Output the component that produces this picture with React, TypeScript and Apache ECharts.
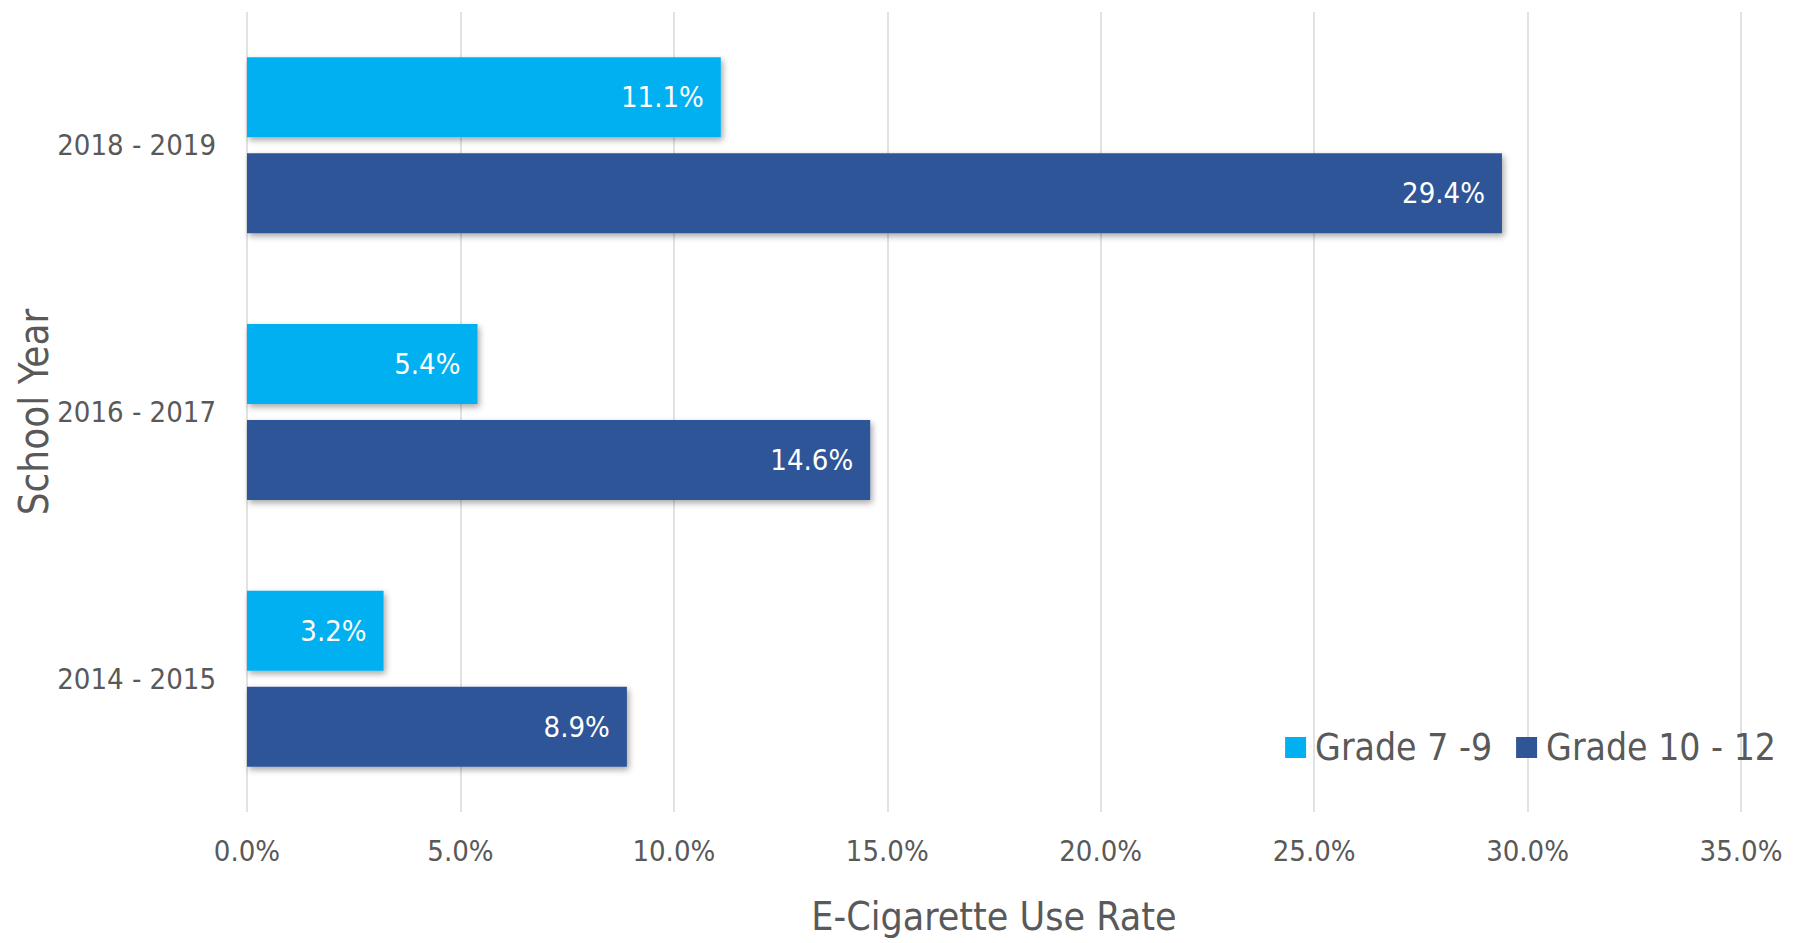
import React, { useEffect, useRef } from "react";
import * as echarts from "echarts";

const categories = ["2014 - 2015", "2016 - 2017", "2018 - 2019"];
const grade7to9 = [3.2, 5.4, 11.1];
const grade10to12 = [8.9, 14.6, 29.4];
const seriesNames = ["Grade 7 -9", "Grade 10 - 12"];
const xTicks = { min: 0, max: 35, interval: 5 };

const FONT = "'Liberation Sans Narrow', 'DejaVu Sans Condensed', 'Arial Narrow', sans-serif";
const GRAY = "#595959";

export default function App() {
  const ref = useRef<HTMLDivElement>(null);
  useEffect(() => {
    if (!ref.current) return;
    const chart = echarts.init(ref.current, undefined, { renderer: "svg" });
    const label = {
      show: true,
      position: "insideRight" as const,
      distance: 17,
      color: "#ffffff",
      fontSize: 29,
      fontFamily: FONT,
      formatter: (p: any) => Number(p.value).toFixed(1) + "%",
    };
    const shadow = {
      shadowBlur: 6,
      shadowOffsetX: 2,
      shadowOffsetY: 3,
      shadowColor: "rgba(0,0,0,0.35)",
    };
    chart.setOption({
      animation: false,
      textStyle: { fontFamily: FONT },
      grid: {
        left: 247,
        right: 60,
        top: 12,
        bottom: 131,
        containLabel: false,
        outerBoundsMode: "none",
      },
      legend: {
        data: seriesNames,
        right: 20,
        top: 724,
        icon: "rect",
        itemWidth: 21,
        itemHeight: 21,
        itemGap: 24,
        textStyle: { fontSize: 37, color: GRAY, fontFamily: FONT, padding: [0, 0, 0, 4] },
      },
      xAxis: {
        type: "value",
        min: xTicks.min,
        max: xTicks.max,
        interval: xTicks.interval,
        name: "E-Cigarette Use Rate",
        nameLocation: "middle",
        nameGap: 85,
        nameMoveOverlap: false,
        nameTextStyle: { fontSize: 39, color: GRAY, fontFamily: FONT },
        axisLine: { show: false },
        axisTick: { show: false },
        axisLabel: {
          fontSize: 29,
          color: GRAY,
          margin: 24,
          fontFamily: FONT,
          formatter: (v: number) => v.toFixed(1) + "%",
        },
        splitLine: { show: true, lineStyle: { color: "#d9d9d9", width: 1.5 } },
      },
      yAxis: {
        type: "category",
        data: categories,
        name: "School Year",
        nameLocation: "middle",
        nameRotate: 90,
        nameGap: 193,
        nameMoveOverlap: false,
        nameTextStyle: { fontSize: 40, color: GRAY, fontFamily: FONT },
        axisLine: { show: false },
        axisTick: { show: false },
        axisLabel: { fontSize: 29, color: GRAY, margin: 31, fontFamily: FONT },
        splitLine: { show: false },
      },
      series: [
        {
          name: seriesNames[0],
          type: "bar",
          data: grade7to9,
          barGap: "20%",
          barCategoryGap: "34%",
          itemStyle: { color: "#00B0F0", ...shadow },
          label,
        },
        {
          name: seriesNames[1],
          type: "bar",
          data: grade10to12,
          barGap: "20%",
          barCategoryGap: "34%",
          itemStyle: { color: "#2F5597", ...shadow },
          label,
        },
      ],
    });
    return () => chart.dispose();
  }, []);
  return (
    <div
      ref={ref}
      style={{ position: "fixed", left: 0, top: 0, width: 1801, height: 943, background: "#fff" }}
    />
  );
}
